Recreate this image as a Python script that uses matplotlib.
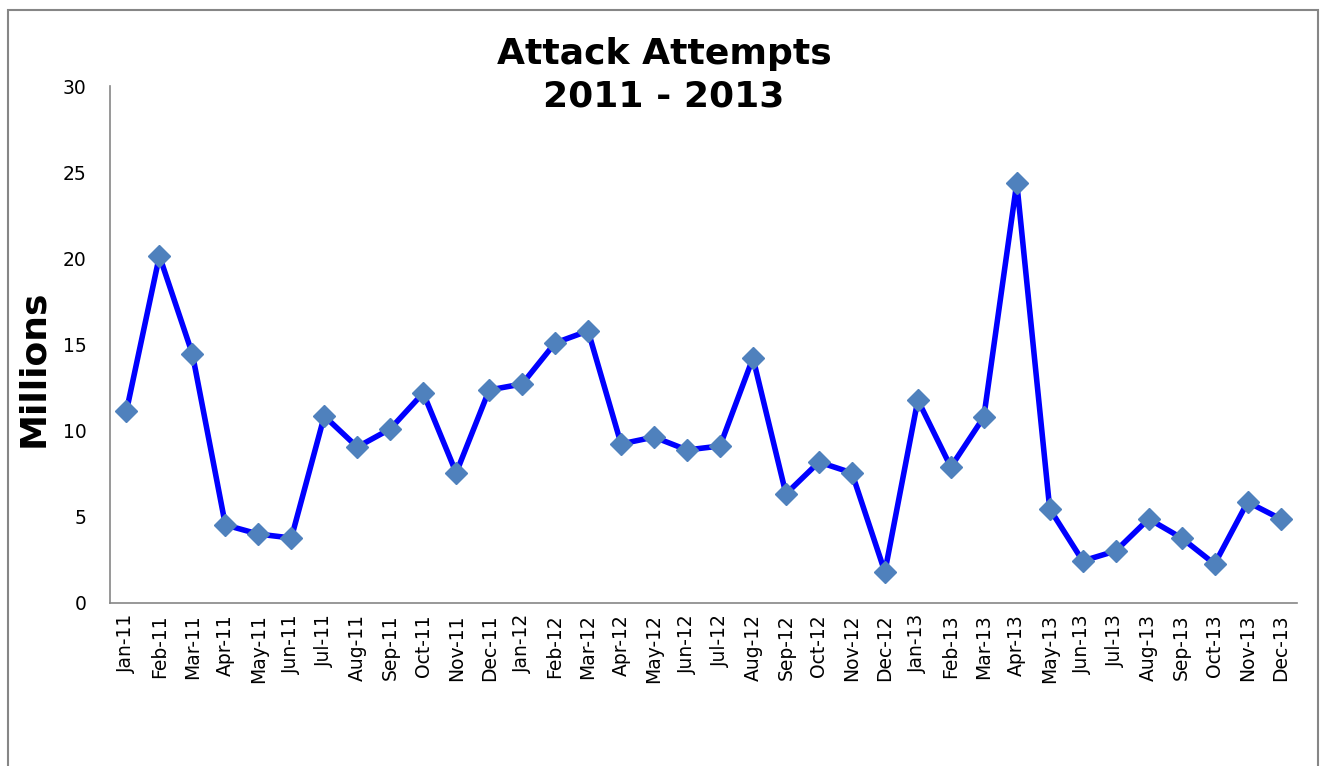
import matplotlib
matplotlib.use("Agg")
import matplotlib.pyplot as plt
from matplotlib.patches import Rectangle

months = ["Jan", "Feb", "Mar", "Apr", "May", "Jun",
          "Jul", "Aug", "Sep", "Oct", "Nov", "Dec"]
years = ["11", "12", "13"]
labels = [f"{m}-{y}" for y in years for m in months]

# attack attempts per month, millions
attempts = [11.14, 20.14, 14.45, 4.53, 4.00, 3.77, 10.85, 9.05, 10.10, 12.19, 7.55, 12.36,
            12.71, 15.09, 15.79, 9.23, 9.63, 8.88, 9.11, 14.22, 6.33, 8.18, 7.55, 1.80,
            11.78, 7.89, 10.79, 24.38, 5.46, 2.44, 3.02, 4.88, 3.77, 2.26, 5.86, 4.88]

fig = plt.figure(figsize=(13.28, 7.66), dpi=100)
ax = fig.add_axes([0.0828, 0.2128, 0.8939, 0.6749])

x = range(len(labels))
ax.plot(x, attempts, color="#0000FF", lw=4, marker="D", ms=11.5,
        mfc="#4F81BD", mec="#4F81BD", zorder=3)

ax.set_xlim(-0.5, len(labels) - 0.5)
ax.set_ylim(0, 30)
ax.set_yticks(range(0, 31, 5))
ax.set_xticks(list(x))
ax.set_xticklabels(labels, rotation=90)
ax.tick_params(axis="both", length=0, labelsize=13.5, colors="black")
ax.tick_params(axis="y", pad=17)
ax.tick_params(axis="x", pad=8)

for s in ["top", "right"]:
    ax.spines[s].set_visible(False)
for s in ["left", "bottom"]:
    ax.spines[s].set_color("#868686")
    ax.spines[s].set_linewidth(1.2)

ax.set_ylabel("Millions", fontsize=26, fontweight="bold")
ax.yaxis.set_label_coords(-0.05, 0.455)

fig.text(0.5, 1 - 37 / 766, "Attack Attempts\n2011 - 2013", ha="center", va="top",
         fontsize=26, fontweight="bold", linespacing=1.3)

# chart frame
fig.patches.append(Rectangle((8 / 1328, -0.05), 1310 / 1328, 1.05 - 10 / 766,
                             transform=fig.transFigure, fill=False,
                             edgecolor="#868686", lw=1.5))

fig.savefig("out.png", dpi=100)
